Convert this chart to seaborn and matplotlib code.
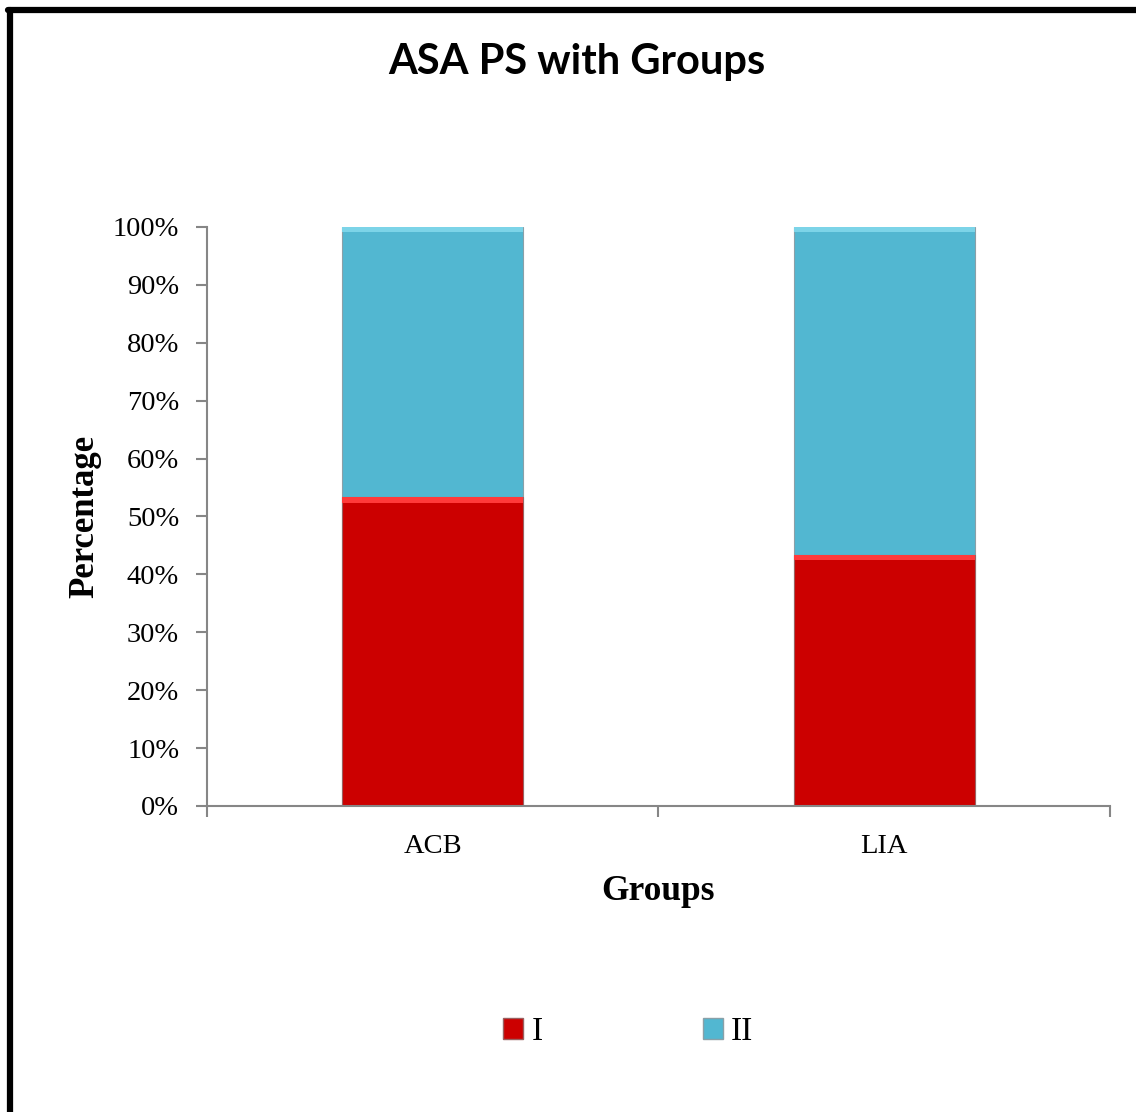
import matplotlib
matplotlib.use("Agg")
import matplotlib.pyplot as plt
from matplotlib.patches import Patch, Rectangle
from matplotlib.ticker import PercentFormatter
import pandas as pd
import seaborn as sns

# ASA physical status distribution per anaesthesia group (percent)
groups = ["ACB", "LIA"]
asa_I = [53.3, 43.3]
asa_II = [46.7, 56.7]
series_names = ["I", "II"]
yticks = [0, 10, 20, 30, 40, 50, 60, 70, 80, 90, 100]

RED = "#CC0000"
BLUE = "#52B7D1"

sns.set_theme(style="white", rc={
    "text.color": "black",
    "axes.labelcolor": "black",
    "xtick.color": "black",
    "ytick.color": "black",
})
plt.rcParams["font.family"] = ["Liberation Serif", "DejaVu Serif"]

df = pd.DataFrame({
    "Groups": groups,
    "I": asa_I,
    "total": [a + b for a, b in zip(asa_I, asa_II)],
})

fig = plt.figure(figsize=(11.36, 11.12), dpi=100)
ax = fig.add_axes([0.1822, 0.2752, 0.7949, 0.5207])

# stacked bars: full height in blue, lower segment in red over it
sns.barplot(data=df, x="Groups", y="total", color=BLUE, saturation=1,
            width=0.4, edgecolor="#8AA0A8", linewidth=0.8, ax=ax)
sns.barplot(data=df, x="Groups", y="I", color=RED, saturation=1,
            width=0.4, edgecolor="#9A6060", linewidth=0.8, ax=ax)

# light bevel strip along the top of each segment
for i in range(len(groups)):
    ax.add_patch(Rectangle((i - 0.2, asa_I[i] - 0.9), 0.4, 0.9,
                           facecolor="#FF3A3A", edgecolor="none", zorder=3))
    ax.add_patch(Rectangle((i - 0.2, asa_I[i] + asa_II[i] - 0.9), 0.4, 0.9,
                           facecolor="#7CD4E8", edgecolor="none", zorder=3))

ax.set_xlim(-0.5, 1.5)
ax.set_ylim(0, 100)
ax.set_yticks(yticks)
ax.yaxis.set_major_formatter(PercentFormatter(decimals=0))
ax.set_xticks([0, 1])
ax.set_xticklabels(groups)
ax.set_xticks([-0.5, 0.5, 1.5], minor=True)

for side in ["top", "right"]:
    ax.spines[side].set_visible(False)
for side in ["left", "bottom"]:
    ax.spines[side].set_color("#868686")
    ax.spines[side].set_linewidth(1.5)

ax.tick_params(axis="y", which="major", left=True, length=8, width=1.5,
               color="#868686", labelsize=20.5, pad=12, labelcolor="black")
ax.tick_params(axis="x", which="major", bottom=False, labelsize=20.5, pad=14,
               labelcolor="black")
ax.tick_params(axis="x", which="minor", bottom=True, length=8, width=1.5,
               color="#868686")

ax.set_xlabel("Groups", fontsize=25.5, fontweight="bold", labelpad=12)
ax.set_ylabel("Percentage", fontsize=25, fontweight="bold", labelpad=8)

fig.text(0.508, 0.944, "ASA PS with Groups", ha="center", va="center",
         fontsize=30, fontweight="bold", color="black",
         family=["Lato", "DejaVu Sans"])

handles = [Patch(facecolor=RED, edgecolor="#9A6060"),
           Patch(facecolor=BLUE, edgecolor="#8AA0A8")]
fig.legend(handles, series_names, loc="center", bbox_to_anchor=(0.553, 0.072),
           ncol=2, frameon=False, fontsize=24, columnspacing=4.8,
           handlelength=0.6, handleheight=0.6, handletextpad=0.25)

# outer chart frame (top and left edges visible)
fig.add_artist(plt.Line2D([0.009, 0.009], [0.0, 0.991], color="black",
                          linewidth=4.5, transform=fig.transFigure))
fig.add_artist(plt.Line2D([0.007, 1.0], [0.991, 0.991], color="black",
                          linewidth=4.5, transform=fig.transFigure))

fig.savefig("out.png", dpi=100, facecolor="white")
